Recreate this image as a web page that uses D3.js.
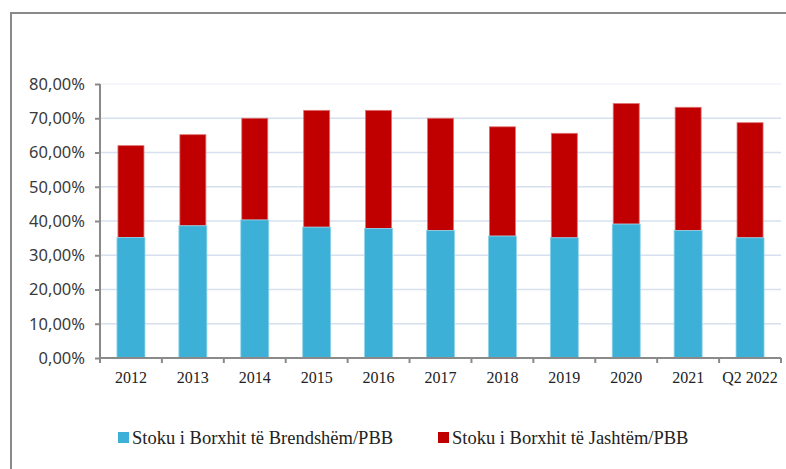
<!DOCTYPE html>
<html><head><meta charset="utf-8">
<script src="https://cdn.jsdelivr.net/npm/d3@7"></script>
<style>body{margin:0;background:#fff}svg{display:block}</style>
</head><body>
<svg id="c" width="786" height="469"></svg>
<script>
const categories = ["2012","2013","2014","2015","2016","2017","2018","2019","2020","2021","Q2 2022"];
const domestic = [35.2,38.6,40.3,38.2,37.8,37.2,35.6,35.1,39.1,37.2,35.1];
const external = [26.8,26.6,29.7,34.1,34.5,32.8,31.9,30.5,35.2,36.0,33.6];
const yTicks = [0,10,20,30,40,50,60,70,80];
const seriesNames = ["Stoku i Borxhit të Brendshëm/PBB","Stoku i Borxhit të Jashtëm/PBB"];
const colors = ["#3DB0D7","#C00000"];

(function(){
const svg = d3.select("#c");
svg.append("path").attr("d","M11,469 L11,13 L786,13").attr("fill","none").attr("stroke","#8a8a8a").attr("stroke-width",2);

const pL=100, pR=781, pT=84, pB=358;
const x = d3.scaleBand().domain(categories).range([pL,pR]).paddingInner(0).paddingOuter(0);
const y = d3.scaleLinear().domain([0,80]).range([pB,pT]);

svg.append("g").selectAll("line").data(yTicks.filter(t=>t>0)).join("line")
  .attr("x1",pL).attr("x2",pR).attr("y1",d=>y(d)).attr("y2",d=>y(d))
  .attr("stroke",d=>d===80?"#f3f5f9":"#d6e0ef").attr("stroke-width",1.3);

const bw = 26;
const g = svg.append("g");
categories.forEach((c,i)=>{
  const cx = x(c)+x.bandwidth()/2;
  g.append("rect").attr("x",cx-bw/2).attr("width",bw)
    .attr("y",y(domestic[i]+external[i])).attr("height",y(domestic[i])-y(domestic[i]+external[i]))
    .attr("fill",colors[1]).attr("stroke","#e07070").attr("stroke-width",0.8);
  g.append("rect").attr("x",cx-bw/2-1).attr("width",bw+2)
    .attr("y",y(domestic[i])).attr("height",y(0)-y(domestic[i]))
    .attr("fill",colors[0]).attr("stroke","#8fd3ea").attr("stroke-width",0.8);
});

const ya = svg.append("g").attr("transform",`translate(${pL},0)`)
  .call(d3.axisLeft(y).tickValues(yTicks).tickSize(5).tickPadding(10)
    .tickFormat(d=>d3.format(".2f")(d).replace(".",",")+"%"));
ya.select(".domain").attr("stroke","#8a8a8a").attr("stroke-width",2).attr("d",`M0,${pT}V${pB}`);
ya.selectAll(".tick line").attr("stroke","#8a8a8a").attr("stroke-width",2);
ya.selectAll(".tick text").attr("font-family","'Noto Sans', sans-serif").attr("font-size",16.5).attr("fill","#3a3a3a");

const xa = svg.append("g").attr("transform",`translate(0,${pB})`)
  .call(d3.axisBottom(x).tickSize(0).tickPadding(14));
xa.select(".domain").attr("stroke","#8a8a8a").attr("stroke-width",2).attr("d",`M${pL},0H${pR}`);
xa.selectAll(".tick text").attr("font-family","'Liberation Serif', 'Times New Roman', serif").attr("font-size",16).attr("fill","#222");
const bounds = categories.map(c=>x(c)).concat([pR]);
xa.append("g").selectAll("line").data(bounds).join("line")
  .attr("x1",d=>d).attr("x2",d=>d).attr("y1",0).attr("y2",5)
  .attr("stroke","#8a8a8a").attr("stroke-width",2);

const leg = [{x:118,tx:132},{x:438,tx:452}];
leg.forEach((l,i)=>{
  svg.append("rect").attr("x",l.x).attr("y",432).attr("width",11).attr("height",11).attr("fill",colors[i]);
  svg.append("text").attr("x",l.tx).attr("y",444).text(seriesNames[i])
    .attr("font-family","'Liberation Serif', 'Times New Roman', serif").attr("font-size",18.5).attr("fill","#222");
});
})();
</script>
</body></html>
